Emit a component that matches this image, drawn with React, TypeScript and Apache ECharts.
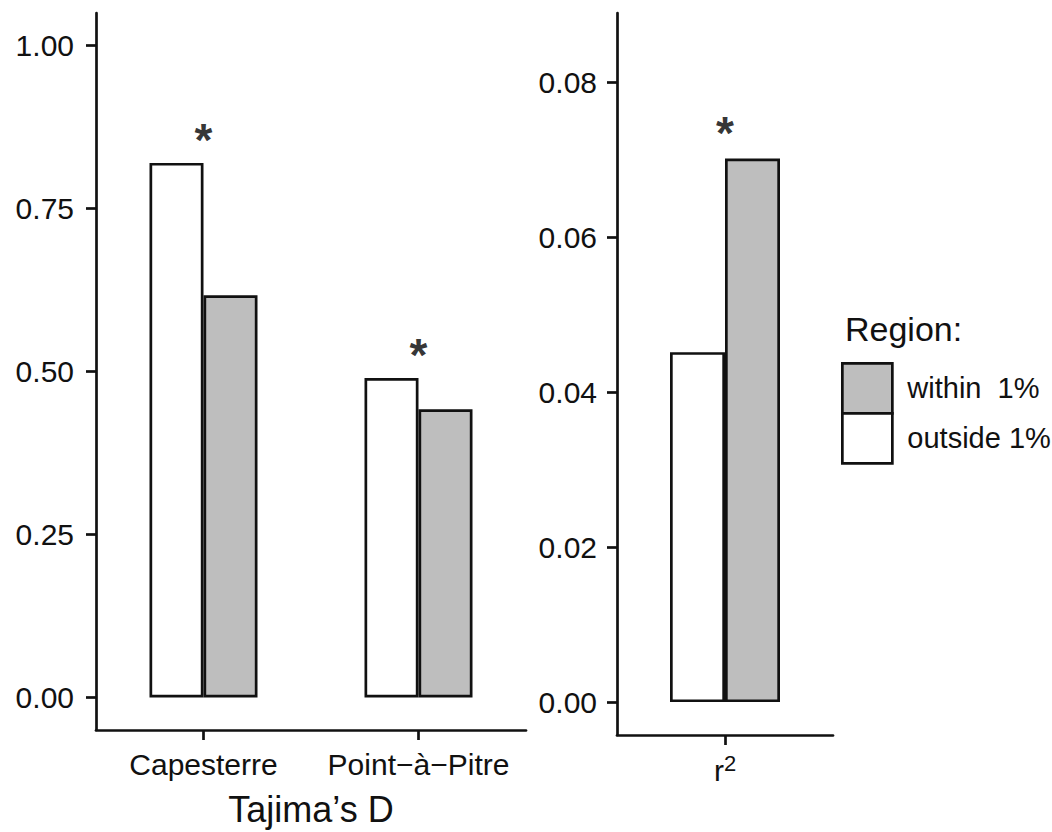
import React, { useEffect, useRef } from "react";
import * as echarts from "echarts";

// ---- data ----
const categoriesD = ["Capesterre", "Point−à−Pitre"];
const outsideD = [0.82, 0.49];
const withinD = [0.617, 0.442];
const starsD = [0.855, 0.525];
const ticksD = [0, 0.25, 0.5, 0.75, 1.0];

const categoriesR = ["r2"];
const outsideR = [0.0452];
const withinR = [0.0702];
const starsR = [0.0735];
const ticksR = [0, 0.02, 0.04, 0.06, 0.08];

const legendNames = ["within  1%", "outside 1%"];
const axisTitleD = "Tajima’s D";
const legendTitle = "Region:";

const FONT = "'Liberation Sans', Arial, Helvetica, sans-serif";
const INK = "#111";
const LW = 2.7;
const GRAY = "#BEBEBE";
const TICK_FS = 30;

export default function App() {
  const ref = useRef<HTMLDivElement>(null);
  useEffect(() => {
    if (!ref.current) return;
    const chart = echarts.init(ref.current, null, { renderer: "svg" });
    const axisLine = { show: true, onZero: false, lineStyle: { color: INK, width: LW } };
    const axisTick = (vals?: number[]) => ({
      show: true,
      length: 10,
      alignWithLabel: true,
      lineStyle: { color: INK, width: LW },
      ...(vals ? { customValues: vals } : {}),
    });
    const barStyle = (fill: string) => ({ color: fill, borderColor: INK, borderWidth: LW });
    const starLabel = {
      show: true,
      position: "inside",
      formatter: () => "*",
      fontSize: 46,
      fontWeight: "bold",
      fontFamily: FONT,
      color: "#000",
    };
    const option: any = {
      animation: false,
      backgroundColor: "#fff",
      textStyle: { fontFamily: FONT },
      grid: [
        { left: 96, top: 13, width: 430, height: 722 },
        { left: 617, top: 13, width: 216, height: 722 },
      ],
      xAxis: [
        {
          type: "category",
          gridIndex: 0,
          data: categoriesD,
          axisLine,
          axisTick: axisTick(),
          axisLabel: { interval: 0, fontSize: TICK_FS, color: INK, margin: 19, fontFamily: FONT },
          name: axisTitleD,
          nameLocation: "middle",
          nameGap: 61,
          nameTextStyle: { fontSize: 36, color: INK, fontFamily: FONT },
          splitLine: { show: false },
        },
        {
          type: "category",
          gridIndex: 1,
          data: categoriesR,
          axisLine,
          axisTick: axisTick(),
          axisLabel: {
            interval: 0,
            margin: 17,
            formatter: () => "{a|r}{b|2}",
            rich: {
              a: { fontSize: TICK_FS, color: INK, fontFamily: FONT, lineHeight: 36 },
              b: { fontSize: 22, color: INK, fontFamily: FONT, verticalAlign: "top", lineHeight: 36 },
            },
          },
          splitLine: { show: false },
        },
      ],
      yAxis: [
        {
          type: "value",
          gridIndex: 0,
          min: -0.05,
          max: 1.05,
          axisLine,
          axisTick: axisTick(ticksD),
          axisLabel: {
            customValues: ticksD,
            formatter: (v: number) => v.toFixed(2),
            fontSize: TICK_FS,
            color: INK,
            margin: 22,
            fontFamily: FONT,
          },
          splitLine: { show: false },
        },
        {
          type: "value",
          gridIndex: 1,
          min: -0.00425,
          max: 0.089,
          axisLine,
          axisTick: axisTick(ticksR),
          axisLabel: {
            customValues: ticksR,
            formatter: (v: number) => v.toFixed(2),
            fontSize: TICK_FS,
            color: INK,
            margin: 20,
            fontFamily: FONT,
          },
          splitLine: { show: false },
        },
      ],
      legend: {
        data: legendNames,
        orient: "vertical",
        left: 841,
        top: 362,
        padding: 0,
        itemWidth: 50,
        itemHeight: 50,
        itemGap: -LW,
        icon: "rect",
        itemStyle: { borderColor: INK, borderWidth: LW },
        textStyle: { fontSize: 29, color: INK, fontFamily: FONT, padding: [0, 0, 0, 10] },
        selectedMode: false,
      },
      graphic: [
        {
          type: "text",
          left: 845,
          top: 312,
          style: { text: legendTitle, fontSize: 34, fill: INK, fontFamily: FONT },
        },
      ],
      series: [
        {
          type: "bar",
          name: legendNames[1],
          xAxisIndex: 0,
          yAxisIndex: 0,
          data: outsideD,
          barWidth: 54,
          barGap: "0%",
          itemStyle: barStyle("#fff"),
        },
        {
          type: "bar",
          name: legendNames[0],
          xAxisIndex: 0,
          yAxisIndex: 0,
          data: withinD,
          barWidth: 54,
          barGap: "0%",
          itemStyle: barStyle(GRAY),
        },
        {
          type: "scatter",
          name: "sigD",
          xAxisIndex: 0,
          yAxisIndex: 0,
          data: starsD,
          symbolSize: 1,
          itemStyle: { color: "rgba(0,0,0,0)" },
          label: starLabel,
        },
        {
          type: "bar",
          name: legendNames[1],
          xAxisIndex: 1,
          yAxisIndex: 1,
          data: outsideR,
          barWidth: 55,
          barGap: "0%",
          itemStyle: barStyle("#fff"),
        },
        {
          type: "bar",
          name: legendNames[0],
          xAxisIndex: 1,
          yAxisIndex: 1,
          data: withinR,
          barWidth: 55,
          barGap: "0%",
          itemStyle: barStyle(GRAY),
        },
        {
          type: "scatter",
          name: "sigR",
          xAxisIndex: 1,
          yAxisIndex: 1,
          data: starsR,
          symbolSize: 1,
          itemStyle: { color: "rgba(0,0,0,0)" },
          label: starLabel,
        },
      ],
    };
    chart.setOption(option);
    return () => chart.dispose();
  }, []);
  return (
    <div
      ref={ref}
      style={{ position: "fixed", left: 0, top: 0, width: 1052, height: 832, background: "#fff" }}
    />
  );
}
